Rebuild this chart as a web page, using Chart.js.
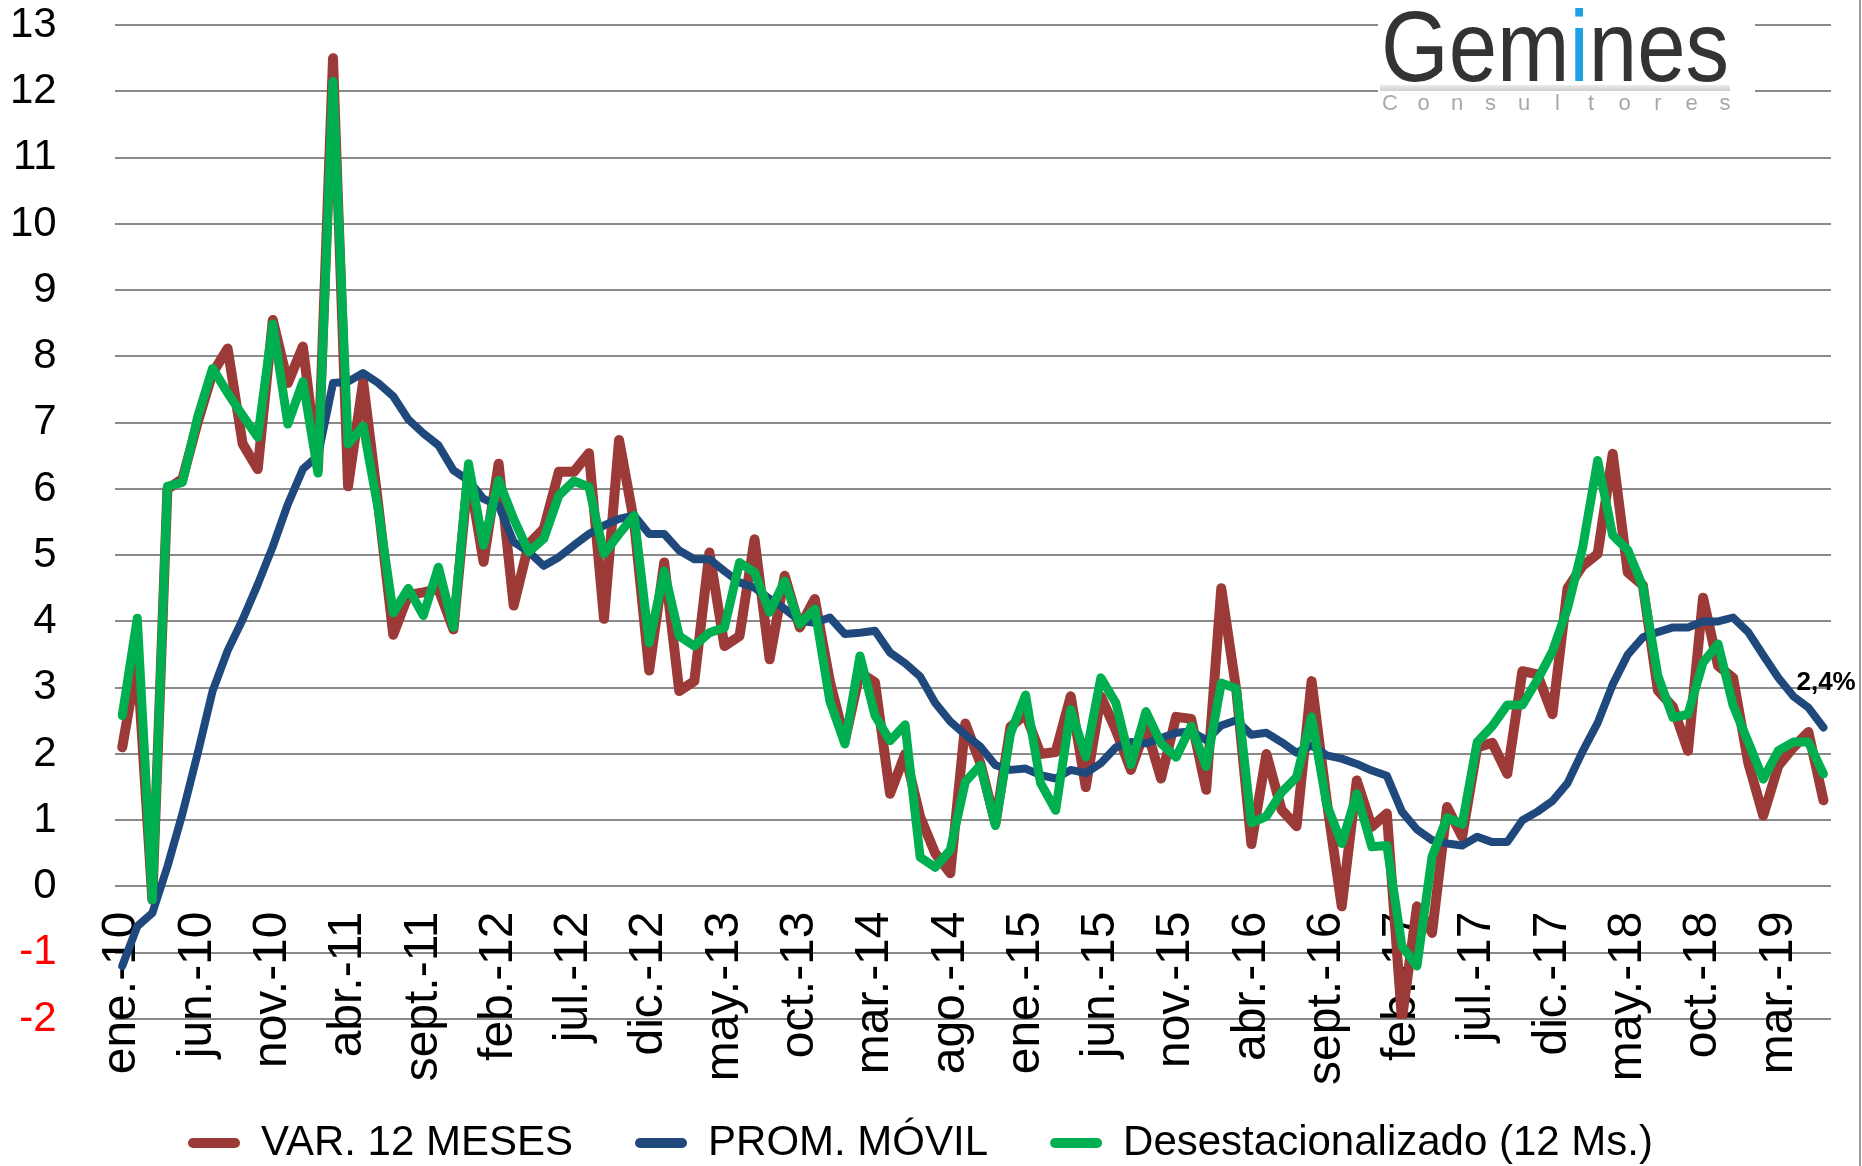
<!DOCTYPE html>
<html>
<head>
<meta charset="utf-8">
<script src="https://cdn.jsdelivr.net/npm/chart.js@4.4.1/dist/chart.umd.min.js"></script>
<style>
  html, body { margin: 0; padding: 0; background: #fff; }
  #wrap { width: 1862px; height: 1166px; }
</style>
</head>
<body>
<div id="wrap"><canvas id="ipcChart" width="1862" height="1166"></canvas></div>
<script>
// Meses en formato de Excel (es-CL)
const monthNames = ['ene.', 'feb.', 'mar.', 'abr.', 'may.', 'jun.', 'jul.', 'ago.', 'sept.', 'oct.', 'nov.', 'dic.'];
const yearLabels = ['10', '11', '12', '13', '14', '15', '16', '17', '18', '19'];
const nPoints = 114; // ene.-10 .. jun.-19

const categories = [];
for (let i = 0; i < nPoints; i++) {
    categories.push(monthNames[i % 12] + '-' + yearLabels[Math.floor(i / 12)]);
}

// VAR. 12 MESES
const varDoceMeses = [
    2.1, 3.4, -0.2, 6.0, 6.15, 7.0, 7.75, 8.12, 6.68, 6.3,
    8.55, 7.6, 8.15, 6.3, 12.5, 6.04, 7.62, 5.77, 3.8, 4.4,
    4.44, 4.49, 3.88, 6.26, 4.9, 6.38, 4.24, 5.17, 5.4, 6.26,
    6.26, 6.54, 4.04, 6.74, 5.5, 3.26, 4.89, 2.95, 3.1, 5.04,
    3.63, 3.78, 5.24, 3.43, 4.69, 3.91, 4.34, 3.1, 2.2, 3.23,
    3.08, 1.4, 2.0, 1.05, 0.5, 0.2, 2.46, 1.86, 0.95, 2.41,
    2.6, 2.0, 2.03, 2.87, 1.5, 2.87, 2.36, 1.76, 2.4, 1.63,
    2.56, 2.53, 1.46, 4.5, 2.96, 0.64, 2.0, 1.16, 0.91, 3.1,
    1.3, -0.3, 1.6, 0.9, 1.1, -2.0, -0.3, -0.7, 1.2, 0.75,
    2.1, 2.17, 1.7, 3.25, 3.2, 2.6, 4.5, 4.84, 5.02, 6.53,
    4.74, 4.55, 2.96, 2.71, 2.05, 4.36, 3.33, 3.15, 1.87, 1.07,
    1.82, 2.1, 2.33, 1.3
];

// PROM. MÓVIL
const promMovil = [
    -1.2, -0.6, -0.4, 0.3, 1.1, 2.0, 2.95, 3.56, 4.03, 4.56,
    5.13, 5.77, 6.3, 6.5, 7.6, 7.62, 7.75, 7.6, 7.4, 7.05,
    6.84, 6.66, 6.28, 6.13, 5.85, 5.75, 5.2, 5.05, 4.84, 4.97,
    5.15, 5.32, 5.45, 5.55, 5.6, 5.32, 5.32, 5.07, 4.94, 4.94,
    4.76, 4.59, 4.51, 4.34, 4.19, 4.01, 3.98, 4.06, 3.81, 3.83,
    3.86, 3.53, 3.37, 3.17, 2.77, 2.49, 2.29, 2.11, 1.83, 1.76,
    1.78, 1.68, 1.63, 1.76, 1.71, 1.86, 2.1, 2.18, 2.16, 2.24,
    2.32, 2.34, 2.21, 2.43, 2.51, 2.29, 2.32, 2.18, 2.02, 2.13,
    1.98, 1.93, 1.85, 1.75, 1.67, 1.13, 0.86, 0.7, 0.65, 0.62,
    0.75, 0.67, 0.67, 1.0, 1.13, 1.29, 1.56, 2.04, 2.47, 3.05,
    3.5, 3.76, 3.84, 3.91, 3.91, 4.0, 4.0, 4.06, 3.84, 3.49,
    3.15, 2.87, 2.7, 2.4
];

// Desestacionalizado (12 Ms.)
const desestacionalizado = [
    2.58, 4.05, -0.2, 6.04, 6.1, 7.08, 7.82, 7.45, 7.11, 6.78,
    8.49, 6.98, 7.62, 6.24, 12.15, 6.68, 6.95, 5.7, 4.13, 4.5,
    4.09, 4.82, 3.91, 6.38, 5.15, 6.13, 5.55, 5.05, 5.25, 5.9,
    6.12, 6.03, 5.02, 5.32, 5.6, 3.68, 4.76, 3.78, 3.63, 3.83,
    3.91, 4.89, 4.74, 4.14, 4.61, 3.96, 4.19, 2.8, 2.15, 3.48,
    2.58, 2.2, 2.44, 0.44, 0.29, 0.55, 1.58, 1.83, 0.92, 2.31,
    2.89, 1.56, 1.15, 2.67, 1.96, 3.15, 2.77, 1.84, 2.64, 2.16,
    1.95, 2.42, 1.81, 3.07, 2.99, 0.96, 1.06, 1.42, 1.65, 2.56,
    1.24, 0.65, 1.4, 0.6, 0.62, -0.9, -1.2, 0.45, 1.04, 0.94,
    2.18, 2.42, 2.74, 2.74, 3.12, 3.55, 4.2, 5.11, 6.43, 5.3,
    5.08, 4.53, 3.18, 2.55, 2.6, 3.38, 3.66, 2.73, 2.18, 1.62,
    2.05, 2.18, 2.18, 1.7
];

const lastLabel = '2,4%';

const RED = '#9b3a37';
const BLUE = '#1f497d';
const GREEN = '#00b050';
const FONT = '"Liberation Sans", Arial, sans-serif';

// logo Gemines + borde derecho
const gemLogo = {
    id: 'gemLogo',
    afterDraw(chart) {
        const c = chart.ctx;
        c.save();
        c.fillStyle = '#fff';
        c.fillRect(1378, 0, 377, 118);

        c.font = '100px ' + FONT;
        c.textBaseline = 'alphabetic';
        const total = c.measureText('Gemines').width;
        c.save();
        c.translate(1381, 81);
        c.scale(348 / total, 1);
        let x = 0;
        [['Gem', '#333333'], ['i', '#1ba1e2'], ['nes', '#333333']].forEach(([t, col]) => {
            c.fillStyle = col;
            c.fillText(t, x, 0);
            x += c.measureText(t).width;
        });
        c.restore();

        const g = c.createLinearGradient(0, 84, 0, 92);
        g.addColorStop(0, '#f2f2f2');
        g.addColorStop(1, '#c8c8c8');
        c.fillStyle = g;
        c.fillRect(1380, 85, 350, 6);

        c.fillStyle = '#a8a8a8';
        c.font = '22px ' + FONT;
        c.textAlign = 'center';
        'Consultores'.split('').forEach((ch, k) => {
            c.fillText(ch, 1390 + k * 33.5, 110);
        });

        c.fillStyle = '#9a9a9a';
        c.fillRect(chart.width - 3, 0, 2, chart.height);
        c.restore();
    }
};

// etiqueta del último dato del promedio móvil
const lastValueLabel = {
    id: 'lastValueLabel',
    afterDatasetsDraw(chart) {
        const meta = chart.getDatasetMeta(1);
        const pt = meta.data[meta.data.length - 1];
        if (!pt) return;
        const c = chart.ctx;
        c.save();
        c.font = 'bold 26px ' + FONT;
        c.fillStyle = '#000';
        c.textAlign = 'left';
        c.textBaseline = 'middle';
        c.fillText(lastLabel, pt.x - 27, pt.y - 45);
        c.restore();
    }
};

const ctx = document.getElementById('ipcChart');

new Chart(ctx.getContext('2d'), {
    type: 'line',
    data: {
        labels: categories,
        datasets: [
            {
                label: 'VAR. 12 MESES',
                data: varDoceMeses,
                borderColor: RED,
                backgroundColor: RED,
                borderWidth: 10,
                order: 3
            },
            {
                label: 'PROM. MÓVIL',
                data: promMovil,
                borderColor: BLUE,
                backgroundColor: BLUE,
                borderWidth: 8,
                order: 2
            },
            {
                label: 'Desestacionalizado (12 Ms.)',
                data: desestacionalizado,
                borderColor: GREEN,
                backgroundColor: GREEN,
                borderWidth: 9,
                order: 1
            }
        ]
    },
    options: {
        responsive: false,
        animation: false,
        devicePixelRatio: 1,
        elements: {
            point: { radius: 0, hoverRadius: 0 },
            line: { tension: 0, borderJoinStyle: 'round', borderCapStyle: 'round', fill: false }
        },
        layout: {
            padding: { left: 10, right: 31, top: 0, bottom: -8 }
        },
        plugins: {
            tooltip: { enabled: false },
            legend: {
                position: 'bottom',
                title: {
                    display: true,
                    text: '',
                    font: { size: 10 },
                    padding: { top: 29, bottom: 0 }
                },
                labels: {
                    font: { size: 42, family: FONT },
                    color: '#000',
                    boxWidth: 52,
                    boxHeight: 10,
                    useBorderRadius: true,
                    borderRadius: 5,
                    padding: 62,
                    sort: (a, b) => a.datasetIndex - b.datasetIndex,
                    generateLabels: (chart) => Chart.defaults.plugins.legend.labels.generateLabels(chart)
                        .map(it => Object.assign(it, { lineWidth: 0, fillStyle: it.strokeStyle }))
                }
            }
        },
        scales: {
            x: {
                type: 'category',
                position: { y: 0 },
                offset: true,
                grid: { display: false, drawTicks: true, tickLength: 25 },
                border: { display: false },
                ticks: {
                    autoSkip: false,
                    minRotation: 90,
                    maxRotation: 90,
                    padding: 0,
                    color: '#000',
                    font: { size: 48, family: FONT },
                    callback: function (value, index) {
                        return index % 5 === 0 ? this.getLabelForValue(value) : null;
                    }
                }
            },
            y: {
                min: -2,
                max: 13,
                grid: {
                    color: '#8a8a8a',
                    lineWidth: 2,
                    drawTicks: true,
                    tickLength: 58,
                    tickColor: 'rgba(0,0,0,0)'
                },
                border: { display: false },
                ticks: {
                    stepSize: 1,
                    padding: 0,
                    font: { size: 42, family: FONT },
                    color: (c) => (c.tick && c.tick.value < 0) ? '#ff0000' : '#000000'
                }
            }
        }
    },
    plugins: [gemLogo, lastValueLabel]
});
</script>
</body>
</html>
